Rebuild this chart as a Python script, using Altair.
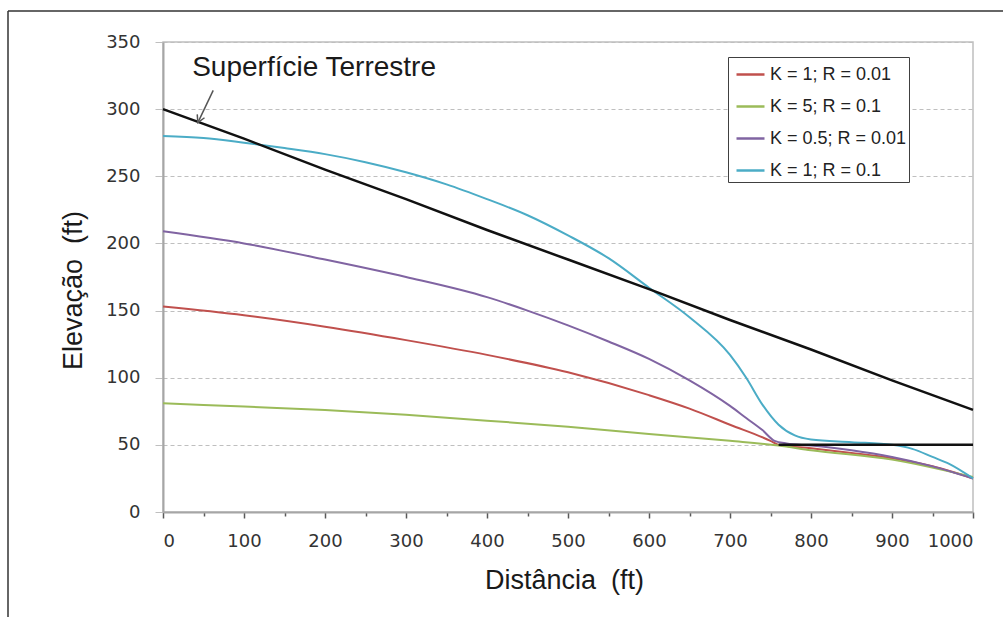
import altair as alt
import pandas as pd

# ---------------- data ----------------
SERIES = ["K = 1; R = 0.01", "K = 5; R = 0.1", "K = 0.5; R = 0.01", "K = 1; R = 0.1"]
COLORS = ["#C0504D", "#9BBB59", "#8064A2", "#4BACC6"]

red_x = [0, 100, 200, 300, 400, 500, 600, 650, 700, 750, 760, 800, 850, 900, 950, 1000]
red_y = [153, 146.5, 138, 128, 117, 104, 87, 77, 65, 53, 50, 47.5, 44, 40, 34, 25]

green_x = [0, 100, 200, 300, 400, 500, 600, 700, 760, 800, 900, 1000]
green_y = [81, 78.5, 76, 72.5, 68, 63.5, 58, 53, 49.5, 46, 39, 26]

purple_x = [0, 100, 200, 300, 400, 450, 500, 550, 600, 650, 700, 720, 740, 755, 770, 800, 850, 900, 950, 1000]
purple_y = [209, 200, 188, 175, 160, 150, 139, 127, 114, 98, 79, 70, 61, 53, 51, 49.5, 46, 41, 34, 25]

cyan_x = [0, 50, 100, 150, 200, 250, 300, 350, 400, 450, 500, 550, 600, 650, 700, 720, 740,
          760, 780, 800, 850, 900, 925, 950, 970, 1000]
cyan_y = [280, 278.5, 275, 271, 266.5, 260.5, 253, 244, 233, 221, 206, 189, 167, 145, 117, 100, 80,
          65, 57, 54, 52, 50, 47, 41, 36, 25]

surface_x = [0, 100, 200, 300, 400, 500, 600, 700, 800, 900, 1000]
surface_y = [300, 278, 255, 233, 210, 188, 166, 143, 121, 98, 76]

water_x = [760, 1000]
water_y = [50, 50]

x_ticks = list(range(0, 1001, 50))
y_ticks = list(range(0, 351, 50))

annot_text = "Superfície Terrestre"
annot_x, annot_y = 36, 325
arrow_x, arrow_y, arrow_x2, arrow_y2 = 62, 314, 43, 290

# ---------------- tables ----------------
rows = []
for name, xs, ys in zip(SERIES, [red_x, green_x, purple_x, cyan_x], [red_y, green_y, purple_y, cyan_y]):
    for i, (a, b) in enumerate(zip(xs, ys)):
        rows.append({"series": name, "dist": a, "elev": b, "order": i})
df = pd.DataFrame(rows)

black_rows = []
for name, xs, ys in [("surface", surface_x, surface_y), ("water", water_x, water_y)]:
    for i, (a, b) in enumerate(zip(xs, ys)):
        black_rows.append({"line": name, "dist": a, "elev": b, "order": i})
bdf = pd.DataFrame(black_rows)

xscale = alt.Scale(domain=[0, 1000], nice=False, zero=False)
yscale = alt.Scale(domain=[0, 350], nice=False)

x_axis = alt.Axis(
    values=x_ticks, format="d",
    labelExpr="datum.value % 100 === 0 ? datum.label : ''",
    tickSize={"condition": {"test": "datum.value % 100 === 0", "value": 6}, "value": 4},
    tickColor="#595959", tickWidth=1.5,
    domainColor="#a6a6a6", domainWidth=2,
    grid=False,
    labelFont="DejaVu Sans", labelFontSize=18, labelColor="#333333", labelPadding=14,
    title="Distância\u00a0 (ft)", titleFont="Liberation Sans", titleFontSize=27,
    titleFontWeight="normal", titleColor="#1a1a1a",
    titleX=401, titleY=76, titleAlign="center", titleBaseline="alphabetic",
)
y_axis = alt.Axis(
    values=y_ticks, format="d",
    tickSize=8, tickColor="#bfbfbf", tickWidth=1,
    grid=True, gridDash=[4, 3], gridColor="#bfbfbf", gridWidth=1,
    domainColor="#a6a6a6", domainWidth=2,
    labelFont="DejaVu Sans", labelFontSize=18, labelColor="#333333", labelPadding=15,
    title="Elevação\u00a0 (ft)", titleFont="Liberation Sans", titleFontSize=27,
    titleFontWeight="normal", titleColor="#1a1a1a",
    titleAngle=270, titleX=-90, titleY=248, titleAlign="center", titleBaseline="middle",
)

lines = alt.Chart(df).mark_line(strokeWidth=2, interpolate="monotone").encode(
    x=alt.X("dist:Q", scale=xscale, axis=x_axis),
    y=alt.Y("elev:Q", scale=yscale, axis=y_axis),
    color=alt.Color(
        "series:N",
        scale=alt.Scale(domain=SERIES, range=COLORS),
        sort=SERIES,
        legend=alt.Legend(
            title=None, orient="none", legendX=565, legendY=15,
            strokeColor="#404040", fillColor="white", padding=2,
            symbolType="stroke", symbolSize=784, symbolStrokeWidth=2.5, symbolOffset=5,
            rowPadding=7, labelFont="Liberation Sans", labelFontSize=18, labelColor="#222222",
            labelOffset=4, labelExpr="datum.label + '\u00a0\u00a0\u00a0'",
        ),
    ),
    order="order:Q",
)

black = alt.Chart(bdf).mark_line(strokeWidth=2.5, color="#111111").encode(
    x=alt.X("dist:Q", scale=xscale),
    y=alt.Y("elev:Q", scale=yscale),
    detail="line:N",
    order="order:Q",
)

one = alt.Data(values=[{"a": 0}])

label = alt.Chart(pd.DataFrame({"t": [annot_text], "x": [annot_x], "y": [annot_y]})).mark_text(
    align="left", baseline="alphabetic", font="Liberation Sans", fontSize=28, color="#1a1a1a"
).encode(x=alt.X("x:Q", scale=xscale), y=alt.Y("y:Q", scale=yscale), text="t:N")

arrow_df = pd.DataFrame({"x": [arrow_x], "y": [arrow_y], "x2": [arrow_x2], "y2": [arrow_y2]})
arrow_line = alt.Chart(arrow_df).mark_rule(color="#555555", strokeWidth=1.5).encode(
    x=alt.X("x:Q", scale=xscale), y=alt.Y("y:Q", scale=yscale), x2="x2:Q", y2="y2:Q"
)
arrow_head = alt.Chart(arrow_df).mark_point(
    shape="M -0.5 0.9 L 0 0 L 0.5 0.9", filled=False, size=256, angle=205,
    color="#555555", strokeWidth=1.5, opacity=1
).encode(x=alt.X("x2:Q", scale=xscale), y=alt.Y("y2:Q", scale=yscale))

frame_left = alt.Chart(one).mark_rule(color="#333333", strokeWidth=1.5).encode(
    x=alt.value(-155), y=alt.value(-31), y2=alt.value(575)
)
frame_top = alt.Chart(one).mark_rule(color="#333333", strokeWidth=1.5).encode(
    x=alt.value(-155), x2=alt.value(840), y=alt.value(-31)
)

chart = alt.layer(
    lines, black, label, arrow_line, arrow_head, frame_left, frame_top
).properties(
    width=810, height=470,
    autosize=alt.AutoSizeParams(type="none"),
    padding={"left": 163, "top": 42, "right": 30, "bottom": 105},
    background="white",
).configure_view(stroke="#bfbfbf", strokeWidth=1.5)

chart.save("out.html", embed_options={"renderer": "svg", "actions": False})
